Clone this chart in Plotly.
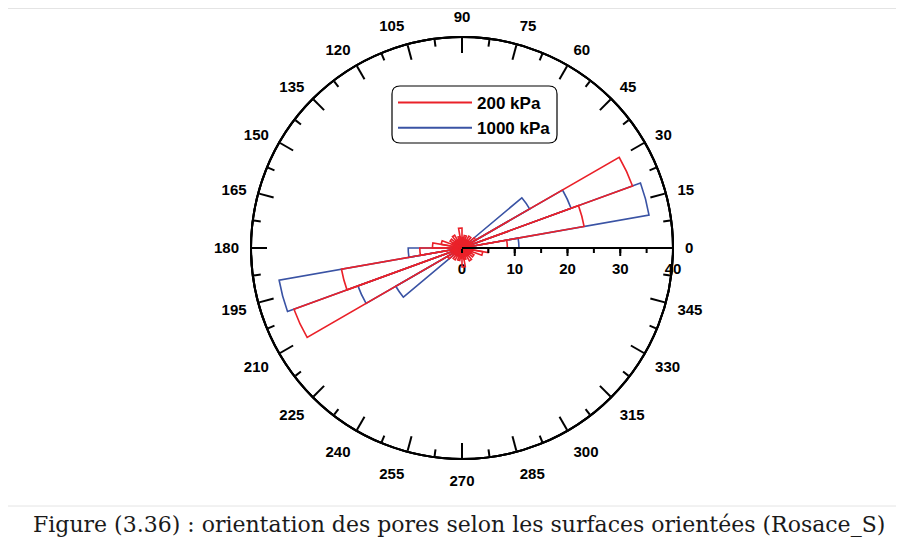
import plotly.graph_objects as go

# ---------------- data ----------------
bin_start = list(range(0, 360, 10))          # degrees, 10-degree bins
bin_width = 10
red_200kPa = [8.6, 23.5, 34.4, 3.0, 1.8, 2.6, 1.6, 2.4, 2.0,
              3.8, 2.2, 1.6, 2.8, 1.8, 2.6, 2.0, 4.0, 5.6,
              8.0, 23.2, 33.9, 3.2, 1.8, 2.6, 1.6, 2.4, 2.0,
              3.6, 2.2, 1.6, 2.8, 1.8, 2.6, 2.0, 4.0, 5.0]
blue_1000kPa = [10.8, 36.0, 22.0, 14.8, 1.2, 1.0, 1.2, 1.0, 1.2,
                1.2, 1.0, 1.2, 1.0, 1.2, 1.0, 1.2, 1.0, 1.2,
                10.2, 35.2, 21.0, 14.5, 1.2, 1.0, 1.2, 1.0, 1.2,
                1.2, 1.0, 1.2, 1.0, 1.2, 1.0, 1.2, 1.0, 1.2]
blue_axis_spike = 24.3
angular_ticks = list(range(0, 360, 15))
angular_minor = [7.5 + 15 * k for k in range(24)]
radial_ticks = [0, 10, 20, 30, 40]
radial_minor = [0, 5, 10, 15, 20, 25, 30, 35, 40]
series_names = ["200 kPa", "1000 kPa"]
caption = "Figure (3.36) : orientation des pores selon les surfaces orientées (Rosace_S)"

RED = "#ea2129"
BLUE = "#3a53a4"
W, H = 904, 547
OFF = 8  # page body margin
cx, cy, R = 462 - OFF, 248 - OFF, 211

theta = [b + bin_width / 2 for b in bin_start]
widths = [bin_width] * len(bin_start)

fig = go.Figure()
fig.add_trace(go.Barpolar(r=blue_1000kPa, theta=theta, width=widths,
                          marker=dict(color="rgba(0,0,0,0)", line=dict(color=BLUE, width=1.6)),
                          showlegend=False, hoverinfo="skip", subplot="polar"))
fig.add_trace(go.Scatterpolar(r=[0, blue_axis_spike], theta=[0, 0], mode="lines",
                              line=dict(color=BLUE, width=2), showlegend=False,
                              hoverinfo="skip", subplot="polar"))
fig.add_trace(go.Barpolar(r=red_200kPa, theta=theta, width=widths,
                          marker=dict(color="rgba(0,0,0,0)", line=dict(color=RED, width=1.6)),
                          showlegend=False, hoverinfo="skip", subplot="polar"))
for name, col in zip(series_names, [RED, BLUE]):
    fig.add_trace(go.Scatterpolar(r=[None], theta=[None], mode="lines", name=name,
                                  line=dict(color=col, width=2), subplot="polar"))
for sp in ["polar2", "polar3"]:
    fig.add_trace(go.Scatterpolar(r=[0], theta=[0], mode="markers", marker=dict(opacity=0),
                                  showlegend=False, hoverinfo="skip", subplot=sp))

dom_x = [(cx - R) / W, (cx + R) / W]
dom_y = [1 - (cy + R) / H, 1 - (cy - R) / H]
tfont = dict(family="Liberation Sans, Arial", size=15, color="black", weight="bold")

def ang(**kw):
    d = dict(rotation=0, direction="counterclockwise", tickmode="array",
             linecolor="black", linewidth=2, showgrid=False, tickwidth=2)
    d.update(kw)
    return d

def rad(**kw):
    d = dict(range=[0, 40], angle=0, side="clockwise", tickmode="array", tickangle=0,
             linecolor="black", linewidth=2, showline=True, showgrid=False, tickwidth=2,
             tickcolor="black", layer="below traces")
    d.update(kw)
    return d

fig.update_layout(
    width=W, height=H, margin=dict(l=0, r=0, t=0, b=0),
    paper_bgcolor="white", plot_bgcolor="white",
    polar=dict(domain=dict(x=dom_x, y=dom_y), bgcolor="rgba(0,0,0,0)", barmode="overlay",
               angularaxis=ang(tickvals=angular_ticks, ticktext=[str(v) for v in angular_ticks],
                               ticks="outside", ticklen=8, tickcolor="rgba(0,0,0,0)",
                               tickfont=tfont),
               radialaxis=rad(tickvals=radial_ticks, ticks="outside", ticklen=7, tickfont=tfont)),
    polar2=dict(domain=dict(x=dom_x, y=dom_y), bgcolor="rgba(0,0,0,0)",
                angularaxis=ang(tickvals=angular_ticks, ticks="inside", ticklen=15,
                                tickcolor="black", showticklabels=False),
                radialaxis=rad(tickvals=radial_minor, ticks="outside", ticklen=4,
                               showticklabels=False)),
    polar3=dict(domain=dict(x=dom_x, y=dom_y), bgcolor="rgba(0,0,0,0)",
                angularaxis=ang(tickvals=angular_minor, ticks="inside", ticklen=7,
                                tickcolor="black", showticklabels=False),
                radialaxis=rad(tickvals=radial_ticks, ticks="", showticklabels=False)),
    showlegend=True,
    legend=dict(x=(393 - OFF) / W, y=1 - (85 - OFF) / H, xanchor="left", yanchor="top",
                bgcolor="rgba(0,0,0,0)", borderwidth=0, itemwidth=74,
                font=dict(family="Liberation Sans, Arial", size=17, color="black", weight="bold"),
                tracegroupgap=0),
)

def px(x): return (x - OFF) / W
def py(y): return 1 - (y - OFF) / H

# rounded legend box
x0, y0, x1, y1, rr = 392, 86, 557, 143, 8
path = (f"M {px(x0+rr)},{py(y0)} L {px(x1-rr)},{py(y0)} Q {px(x1)},{py(y0)} {px(x1)},{py(y0+rr)} "
        f"L {px(x1)},{py(y1-rr)} Q {px(x1)},{py(y1)} {px(x1-rr)},{py(y1)} "
        f"L {px(x0+rr)},{py(y1)} Q {px(x0)},{py(y1)} {px(x0)},{py(y1-rr)} "
        f"L {px(x0)},{py(y0+rr)} Q {px(x0)},{py(y0)} {px(x0+rr)},{py(y0)} Z")
fig.add_shape(type="path", path=path, xref="paper", yref="paper",
              line=dict(color="black", width=1.2))

# light frame lines
for (a, b, c, d) in [(OFF, 8.5, W + OFF, 8.5), (OFF, 506, W + OFF, 506)]:
    fig.add_shape(type="line", x0=px(a), y0=py(b), x1=px(c), y1=py(d), xref="paper", yref="paper",
                  line=dict(color="#e4e4e4", width=1))

fig.add_annotation(text=caption, x=px(459), y=py(524), xref="paper", yref="paper",
                   showarrow=False, xanchor="center", yanchor="middle",
                   font=dict(family="DejaVu Serif", size=22, color="#1a1a1a"))

fig.write_html("out.html")
